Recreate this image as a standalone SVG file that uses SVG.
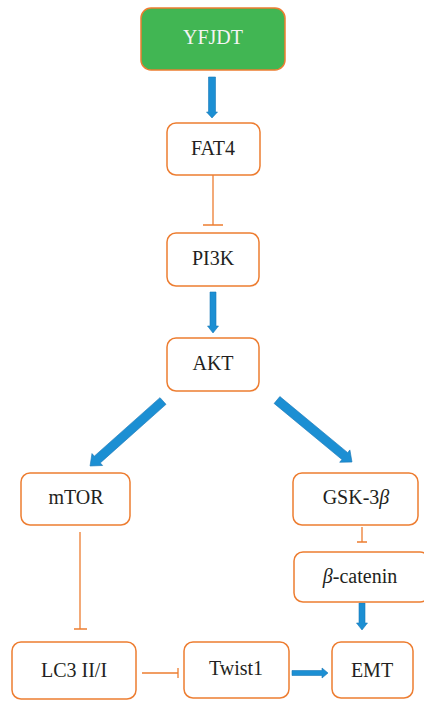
<svg xmlns="http://www.w3.org/2000/svg" width="424" height="701" viewBox="0 0 424 701">
<style>
.box{fill:#ffffff;stroke:#ed7d31;stroke-width:1.5}
.start{fill:#41b653;stroke:#ed7d31;stroke-width:1.5}
.lbl{font-size:20px;fill:#231f20;text-anchor:middle}
.wl{fill:#f4f4f4}
.inh{stroke:#ed7d31;stroke-width:1.3;fill:none}
.act{fill:#1c8fd3;stroke:#1a78b8;stroke-width:0.6}
</style>
<rect width="424" height="701" fill="#ffffff"/>
<g id="connectors">
  <polygon class="act" points="208.5,77 215.5,77 215.5,112 217.5,112 212,118 206.5,112 208.5,112"/>
  <path class="inh" d="M213,175 V225 M203,225 H223"/>
  <polygon class="act" points="210,292 216,292 216,326 218.5,326 213,333 207.5,326 210,326"/>
  <polygon class="act" transform="translate(163,401) rotate(138.3)" points="0,-4.5 88,-4.5 88,-8 97.7,0 88,8 88,4.5 0,4.5"/>
  <polygon class="act" transform="translate(277,400) rotate(39.6)" points="0,-4.5 88,-4.5 88,-8 97.3,0 88,8 88,4.5 0,4.5"/>
  <path class="inh" d="M80,532 V629 M74,629 H87"/>
  <path class="inh" d="M362,527 V542 M357,542 H367"/>
  <polygon class="act" points="359,603 365,603 365,623 367.5,623 362,630 356.5,623 359,623"/>
  <path class="inh" d="M142,673 H178 M178,668 V678"/>
  <polygon class="act" points="292,670.5 322,670.5 322,668 328,673 322,678 322,675.5 292,675.5"/>
</g>
<g font-family="'Liberation Serif', 'Times New Roman', serif">
<g id="YFJDT"><rect class="start" x="141" y="8" width="144" height="62" rx="10"/><text class="lbl wl" x="213" y="44">YFJDT</text></g>
<g id="FAT4"><rect class="box" x="167" y="123" width="93" height="52" rx="9"/><text class="lbl" x="213" y="155">FAT4</text></g>
<g id="PI3K"><rect class="box" x="167" y="233" width="92" height="53" rx="9"/><text class="lbl" x="213" y="265">PI3K</text></g>
<g id="AKT"><rect class="box" x="167" y="338" width="92" height="53" rx="9"/><text class="lbl" x="213" y="370">AKT</text></g>
<g id="mTOR"><rect class="box" x="21" y="473" width="109" height="52" rx="9"/><text class="lbl" x="76" y="504">mTOR</text></g>
<g id="GSK3b"><rect class="box" x="293" y="473" width="125" height="52" rx="9"/><text class="lbl" x="356" y="504">GSK-3<tspan font-style="italic">β</tspan></text></g>
<g id="bcatenin"><rect class="box" x="294" y="552" width="135" height="50" rx="9"/><text class="lbl" x="360" y="583"><tspan font-style="italic">β</tspan>-catenin</text></g>
<g id="LC3"><rect class="box" x="12" y="642" width="124" height="57" rx="9"/><text class="lbl" x="74" y="677">LC3 II/I</text></g>
<g id="Twist1"><rect class="box" x="184" y="642" width="105" height="56" rx="9"/><text class="lbl" x="236" y="675">Twist1</text></g>
<g id="EMT"><rect class="box" x="332" y="642" width="81" height="56" rx="9"/><text class="lbl" x="372" y="677">EMT</text></g>
</g>
</svg>
